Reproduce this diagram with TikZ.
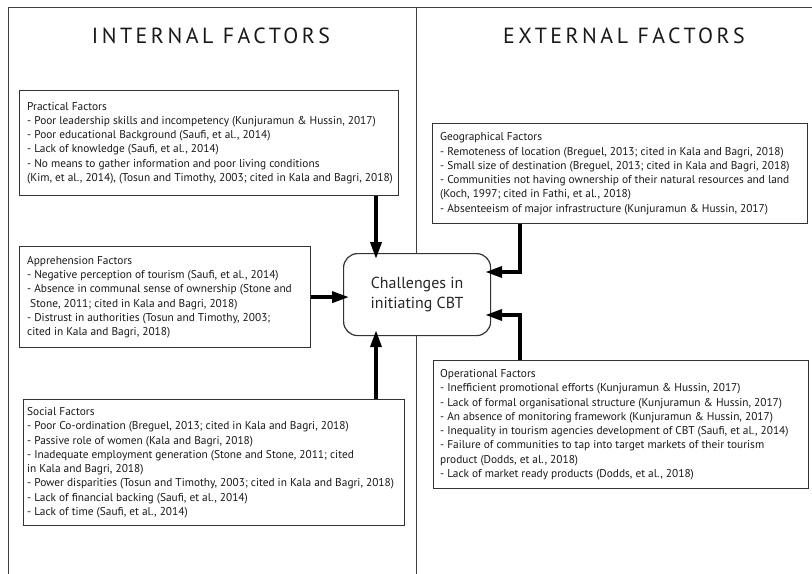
\documentclass[tikz,border=0pt]{standalone}
\usepackage{fontspec}
\setmainfont{PT Sans}
\usetikzlibrary{arrows.meta}
\begin{document}
\begin{tikzpicture}[x=1bp,y=-1bp,
  frame/.style={draw=black!75, line width=1bp},
  fbox/.style={draw=black!80, line width=1.2bp, rectangle, inner sep=0pt, fill=white, anchor=north west},
  body/.style={align=left, font=\fontsize{11.4}{14.3}\selectfont, inner sep=0pt, anchor=west, text=black!90},
  heading/.style={font=\fontsize{22}{26}\selectfont\addfontfeature{LetterSpace=16}, text=black!90},
  flow/.style={line width=3.6bp, -{Triangle[length=17bp,width=11bp]}, shorten >=-6bp},
]
\useasboundingbox (0,0) rectangle (812,574);
% frame
\draw[frame] (8,574) -- (8,8) -- (812,8);
\draw[frame] (416,8) -- (416,574);
\node[heading] (tint) at (211,36) {INTERNAL FACTORS};
\node[heading] (text) at (624,36) {EXTERNAL FACTORS};
% boxes
\node[fbox, minimum width=379bp, minimum height=105bp] (prac) at (19,90) {};
\node[fbox, minimum width=291bp, minimum height=101bp] (appr) at (19,246) {};
\node[fbox, minimum width=381bp, minimum height=126bp] (soc) at (23,399) {};
\node[fbox, minimum width=375bp, minimum height=100bp] (geo) at (432,123) {};
\node[fbox, minimum width=375bp, minimum height=128bp] (oper) at (433,360) {};
\node[fbox, rounded corners=14bp, minimum width=147bp, minimum height=82bp, align=center,
      font=\fontsize{16}{20}\selectfont, text=black!85] (chal) at (343,253) {Challenges in\\initiating CBT};
% texts
\node[body] (tprac) at ([xshift=8bp]prac.west) {Practical Factors\\
- Poor leadership skills and incompetency (Kunjuramun \& Hussin, 2017)\\
- Poor educational Background (Saufi, et al., 2014)\\
- Lack of knowledge (Saufi, et al., 2014)\\
- No means to gather information and poor living conditions\\
(Kim, et al., 2014), (Tosun and Timothy, 2003; cited in Kala and Bagri, 2018)};
\node[body] (tappr) at ([xshift=8bp]appr.west) {Apprehension Factors\\
- Negative perception of tourism (Saufi, et al., 2014)\\
- Absence in communal sense of ownership (Stone and\\
\ Stone, 2011; cited in Kala and Bagri, 2018)\\
- Distrust in authorities (Tosun and Timothy, 2003;\\
cited in Kala and Bagri, 2018)};
\node[body] (tsoc) at ([xshift=4bp]soc.west) {Social Factors\\
- Poor Co-ordination (Breguel, 2013; cited in Kala and Bagri, 2018)\\
- Passive role of women (Kala and Bagri, 2018)\\
- Inadequate employment generation (Stone and Stone, 2011; cited\\
in Kala and Bagri, 2018)\\
- Power disparities (Tosun and Timothy, 2003; cited in Kala and Bagri, 2018)\\
- Lack of financial backing (Saufi, et al., 2014)\\
- Lack of time (Saufi, et al., 2014)};
\node[body] (tgeo) at ([xshift=8bp]geo.west) {Geographical Factors\\
- Remoteness of location (Breguel, 2013; cited in Kala and Bagri, 2018)\\
- Small size of destination (Breguel, 2013; cited in Kala and Bagri, 2018)\\
- Communities not having ownership of their natural resources and land\\
(Koch, 1997; cited in Fathi, et al., 2018)\\
- Absenteeism of major infrastructure (Kunjuramun \& Hussin, 2017)};
\node[body] (toper) at ([xshift=7bp]oper.west) {Operational Factors\\
- Inefficient promotional efforts (Kunjuramun \& Hussin, 2017)\\
- Lack of formal organisational structure (Kunjuramun \& Hussin, 2017)\\
- An absence of monitoring framework (Kunjuramun \& Hussin, 2017)\\
- Inequality in tourism agencies development of CBT (Saufi, et al., 2014)\\
- Failure of communities to tap into target markets of their tourism\\
product (Dodds, et al., 2018)\\
- Lack of market ready products (Dodds, et al., 2018)};
% arrows
\coordinate (ax) at (376,0);
\coordinate (gy) at (520,272);
\coordinate (oy) at (520,315);
\draw[flow] (prac.south -| ax) -- (chal.north -| ax);
\draw[flow] (soc.north -| ax) -- (chal.south -| ax);
\draw[flow] (appr.east) -- (appr.east -| chal.west);
\draw[flow] (geo.south -| gy) |- (chal.east |- gy);
\draw[flow] (oper.north -| oy) |- (chal.east |- oy);
\end{tikzpicture}
\end{document}
